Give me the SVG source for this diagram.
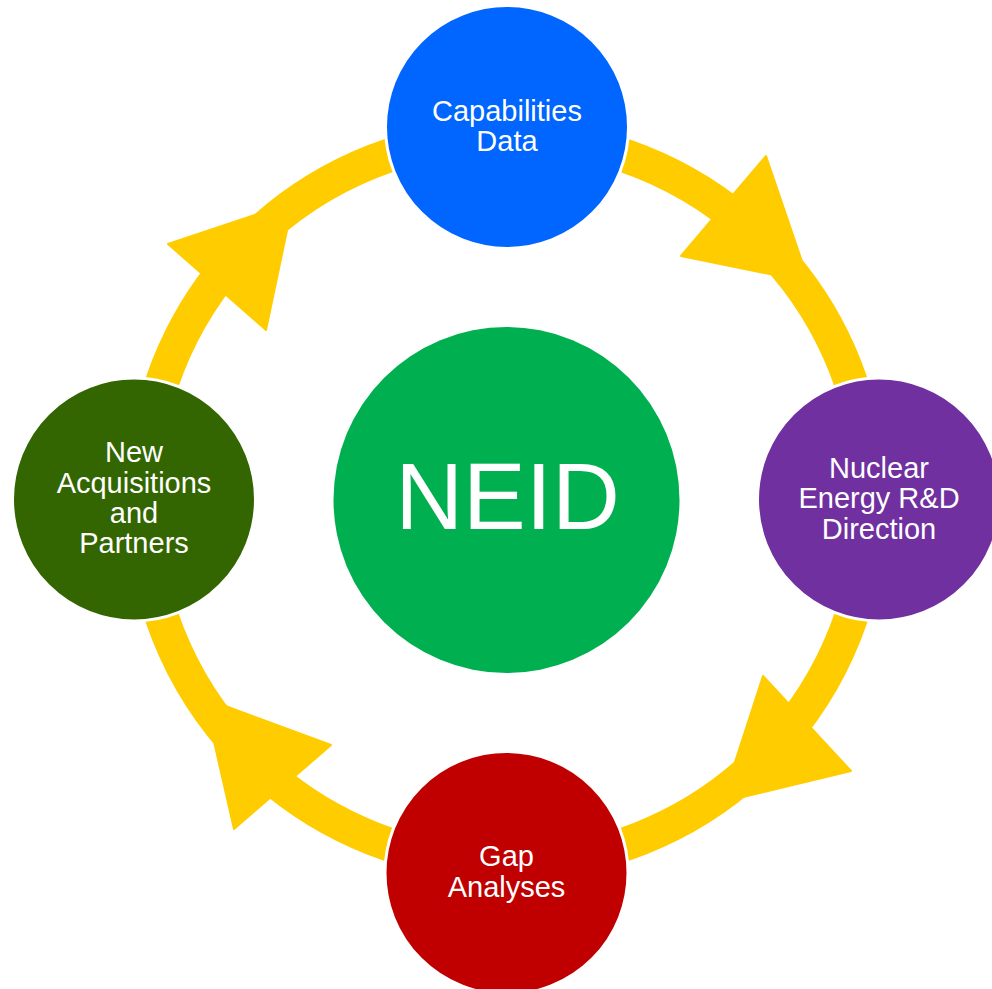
<svg xmlns="http://www.w3.org/2000/svg" width="992" height="989" viewBox="0 0 992 989">
  <style>
    .ring { fill: none; stroke: #FFCC00; stroke-width: 34; }
    .head { fill: #FFCC00; stroke: #FFCC00; stroke-width: 2; stroke-linejoin: round; }
    .node { stroke: #FFFFFF; stroke-width: 3; }
    .label { font-family: "Liberation Sans", Arial, sans-serif; font-size: 29px; fill: #FFFFFF; text-anchor: middle; }
    .hub { font-family: "Liberation Sans", Arial, sans-serif; font-size: 94px; fill: #FFFFFF; text-anchor: middle; }
  </style>
  <rect width="992" height="989" fill="#FFFFFF"/>

  <!-- cycle connectors: ring arcs with arrowheads, clockwise -->
  <g id="connectors">
    <g id="c-top-right">
      <path class="ring" d="M 506.5 136 A 364 364 0 0 1 870.5 500"/>
      <polygon class="head" points="766,156 809,282 681,256"/>
    </g>
    <g id="c-right-bottom">
      <path class="ring" d="M 870.5 500 A 364 364 0 0 1 506.5 864"/>
      <polygon class="head" points="851,771 722,802 763,676"/>
    </g>
    <g id="c-bottom-left">
      <path class="ring" d="M 506.5 864 A 364 364 0 0 1 142.5 500"/>
      <polygon class="head" points="234,829 204,698 331,745"/>
    </g>
    <g id="c-left-top">
      <path class="ring" d="M 142.5 500 A 364 364 0 0 1 506.5 136"/>
      <polygon class="head" points="168,244 293,202 266,330"/>
    </g>
  </g>

  <g id="neid">
    <circle cx="506.5" cy="500" r="173" fill="#00B050"/>
    <text class="hub" x="507.5" y="529">NEID</text>
  </g>

  <g id="capabilities-data">
    <circle class="node" cx="507" cy="127" r="121.5" fill="#0066FF"/>
    <text class="label" x="507" y="121">Capabilities</text>
    <text class="label" x="507" y="151">Data</text>
  </g>

  <g id="nuclear-energy">
    <circle class="node" cx="879" cy="499.5" r="121.5" fill="#7030A0"/>
    <text class="label" x="879" y="477.5">Nuclear</text>
    <text class="label" x="879" y="508">Energy R&amp;D</text>
    <text class="label" x="879" y="538.5">Direction</text>
  </g>

  <g id="gap-analyses">
    <circle class="node" cx="506.5" cy="873" r="121.5" fill="#C00000"/>
    <text class="label" x="506.5" y="866">Gap</text>
    <text class="label" x="506.5" y="896.5">Analyses</text>
  </g>

  <g id="new-acquisitions">
    <circle class="node" cx="134" cy="499.5" r="121.5" fill="#336600"/>
    <text class="label" x="134" y="462">New</text>
    <text class="label" x="134" y="492.5">Acquisitions</text>
    <text class="label" x="134" y="523">and</text>
    <text class="label" x="134" y="553">Partners</text>
  </g>
</svg>
